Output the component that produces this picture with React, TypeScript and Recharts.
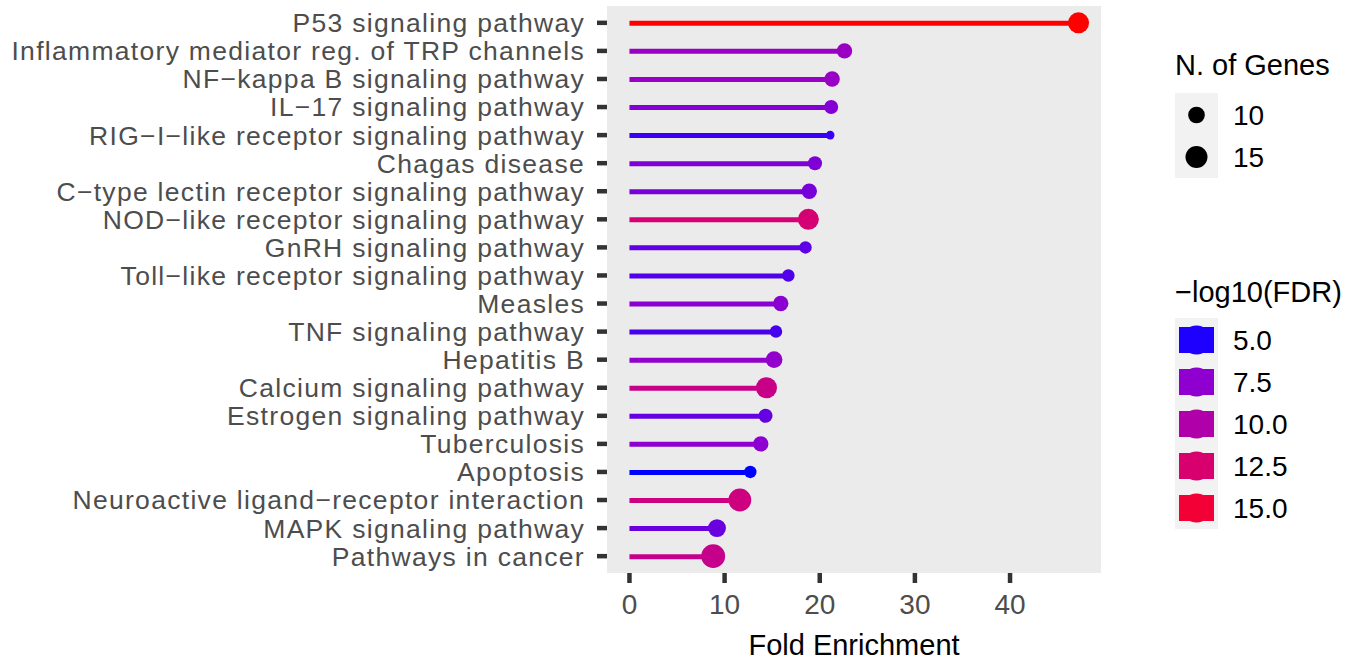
import { ComposedChart, Bar, Scatter, Cell, XAxis, YAxis, ZAxis, CartesianGrid } from "recharts";

const FONT = "'Liberation Sans', Arial, Helvetica, sans-serif";

// pathways, top to bottom
const pathways = [
  "P53 signaling pathway",
  "Inflammatory mediator reg. of TRP channels",
  "NF\u2212kappa B signaling pathway",
  "IL\u221217 signaling pathway",
  "RIG\u2212I\u2212like receptor signaling pathway",
  "Chagas disease",
  "C\u2212type lectin receptor signaling pathway",
  "NOD\u2212like receptor signaling pathway",
  "GnRH signaling pathway",
  "Toll\u2212like receptor signaling pathway",
  "Measles",
  "TNF signaling pathway",
  "Hepatitis B",
  "Calcium signaling pathway",
  "Estrogen signaling pathway",
  "Tuberculosis",
  "Apoptosis",
  "Neuroactive ligand\u2212receptor interaction",
  "MAPK signaling pathway",
  "Pathways in cancer",
];
const foldEnrichment = [47.2, 22.6, 21.3, 21.2, 21.1, 19.5, 18.9, 18.8, 18.5, 16.7, 15.9, 15.4, 15.2, 14.4, 14.3, 13.8, 12.7, 11.6, 9.2, 8.8];
const nGenes = [14, 9, 9, 8, 5, 8, 9, 14, 7, 7, 9, 7, 10, 14, 8, 9, 7, 16, 11, 17];
const log10FDR = [16.5, 8.3, 8.2, 7.25, 5.6, 7.15, 7.0, 12.3, 6.45, 6.1, 7.4, 5.9, 7.75, 11.45, 6.55, 7.45, 4.64, 11.8, 6.7, 11.3];

const xTicks = [0, 10, 20, 30, 40];
const sizeBreaks = [10, 15];
const colorBreaks = [5.0, 7.5, 10.0, 12.5, 15.0];
// gradient colours
const colorStops = ["#1E00FF", "#8F00D0", "#B000AA", "#D8006E", "#F20036"];

// size scale (area, px^2)
const genesDomain: [number, number] = [5, 17];
const areaRange: [number, number] = [58, 444];
const areaOf = (n: number) =>
  areaRange[0] + ((n - genesDomain[0]) / (genesDomain[1] - genesDomain[0])) * (areaRange[1] - areaRange[0]);

const fdrMin = Math.min(...log10FDR);
const fdrMax = Math.max(...log10FDR);
const stops: [number, number[]][] = [
  [fdrMin, [0, 0, 255]],
  ...colorBreaks.map((v, i): [number, number[]] => [v, [1, 3, 5].map((k) => parseInt(colorStops[i].slice(k, k + 2), 16))]),
  [fdrMax, [255, 0, 0]],
];
const colorOf = (v: number) => {
  let i = 0;
  while (i < stops.length - 2 && v > stops[i + 1][0]) i++;
  const [v0, c0] = stops[i];
  const [v1, c1] = stops[i + 1];
  const t = Math.min(1, Math.max(0, (v - v0) / (v1 - v0)));
  return "#" + c0.map((c, k) => Math.round(c + (c1[k] - c) * t).toString(16).padStart(2, "0")).join("");
};

const rows = pathways.map((name, i) => ({
  name,
  fold: foldEnrichment[i],
  genes: nGenes[i],
  fdr: log10FDR[i],
}));

const YTick = ({ x, y, payload }: any) => (
  <text x={x} y={y} dy="0.355em" textAnchor="end" fontSize={26.5} fill="#4D4D4D" letterSpacing={1.3}>
    {payload.value}
  </text>
);
const XTick = ({ x, y, payload }: any) => (
  <text x={x} y={y} dy="0.71em" textAnchor="middle" fontSize={28} fill="#4D4D4D">
    {payload.value}
  </text>
);

function Legends() {
  return (
    <svg width={1359} height={662} style={{ position: "absolute", left: 0, top: 0, pointerEvents: "none" }}>
      <text x={1175} y={75} fontSize={29} fill="#000">N. of Genes</text>
      <rect x={1175} y={93} width={43} height={85} fill="#F2F2F2" />
      {sizeBreaks.map((n, i) => (
        <g key={n}>
          <circle cx={1196.5} cy={115 + i * 42} r={Math.sqrt(areaOf(n) / Math.PI)} fill="#000" />
          <text x={1233} y={115 + i * 42} dy="0.355em" fontSize={28} fill="#000">{n}</text>
        </g>
      ))}
      <text x={1175} y={302} fontSize={29} fill="#000">{"\u2212log10(FDR)"}</text>
      <rect x={1175} y={318} width={43} height={211} fill="#F2F2F2" />
      {colorBreaks.map((v, i) => (
        <g key={v}>
          <rect x={1179} y={340 + i * 42 - 13} width={35} height={26} fill={colorOf(v)} />
          <circle cx={1196.5} cy={340 + i * 42} r={14.5} fill={colorOf(v)} />
          <text x={1233} y={340 + i * 42} dy="0.355em" fontSize={28} fill="#000">{v.toFixed(1)}</text>
        </g>
      ))}
    </svg>
  );
}

export default function App() {
  return (
    <div style={{ position: "absolute", left: 0, top: 0, width: 1359, height: 662, background: "#fff", fontFamily: FONT }}>
      <ComposedChart
        width={1359}
        height={662}
        layout="vertical"
        data={rows}
        margin={{ top: 6, right: 258, bottom: 0, left: 0 }}
      >
        <CartesianGrid fill="#EBEBEB" fillOpacity={1} stroke="none" horizontal={false} vertical={false} />
        <XAxis
          type="number"
          dataKey="fold"
          domain={[-2.36, 49.56]}
          allowDataOverflow
          ticks={xTicks}
          interval={0}
          axisLine={false}
          tickLine={{ stroke: "#333333", strokeWidth: 4.5 }}
          tickSize={10}
          tickMargin={11}
          height={89}
          tick={<XTick />}
          label={{ value: "Fold Enrichment", position: "insideBottom", offset: 7, fill: "#000", fontSize: 29 }}
        />
        <YAxis
          type="category"
          dataKey="name"
          width={607}
          interval={0}
          axisLine={false}
          tickLine={{ stroke: "#333333", strokeWidth: 4.5 }}
          tickSize={10}
          tickMargin={12}
          padding={{ top: 2.8, bottom: 2.8 }}
          tick={<YTick />}
        />
        <ZAxis type="number" dataKey="genes" domain={genesDomain} range={areaRange} />
        <Bar dataKey="fold" barSize={5} isAnimationActive={false}>
          {rows.map((r) => (
            <Cell key={r.name} fill={colorOf(r.fdr)} />
          ))}
        </Bar>
        <Scatter dataKey="fold" isAnimationActive={false}>
          {rows.map((r) => (
            <Cell key={r.name} fill={colorOf(r.fdr)} />
          ))}
        </Scatter>
      </ComposedChart>
      <Legends />
    </div>
  );
}
